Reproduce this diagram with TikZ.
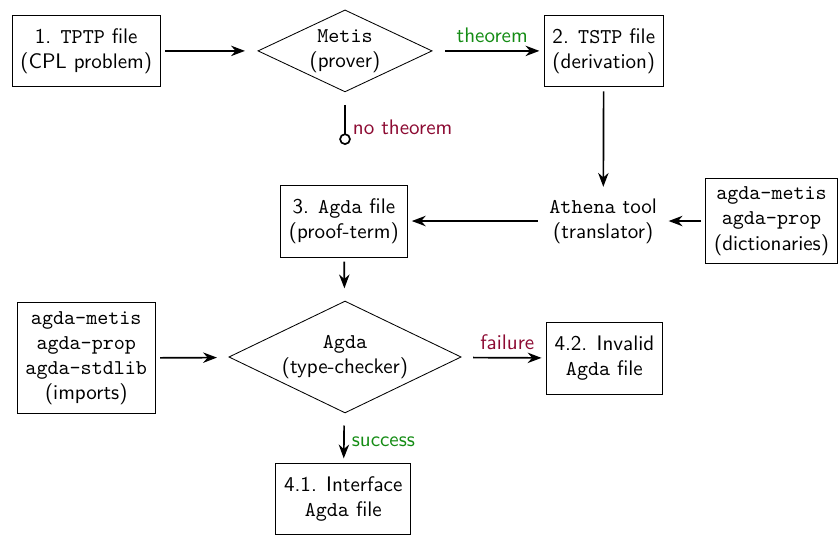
\documentclass[tikz,border=0pt]{standalone}
\usetikzlibrary{arrows.meta, shapes.geometric}

\definecolor{okgreen}{RGB}{20,140,20}
\definecolor{badred}{RGB}{140,10,50}

\tikzset{
    filebox/.style={draw, thin, align=center, font=\sffamily,
                    inner sep=4pt, minimum height=1.2cm},
    tool/.style={diamond, aspect=2, draw, thin, align=center, font=\sffamily,
                 inner sep=0pt, outer sep=3pt},
    plain/.style={align=center, font=\sffamily}
}

\begin{document}
\begin{tikzpicture}
\useasboundingbox (0, 0) rectangle (13.99, 8.95);

\node[filebox] (tptp) at (1.44, 8.10) {1. \texttt{TPTP} file\\(CPL problem)};
\node[tool, minimum width=2.99cm, minimum height=1.45cm] (metis) at (5.76, 8.10) {\texttt{Metis}\\(prover)};
\node[filebox] (tstp) at (10.08, 8.10) {2. \texttt{TSTP} file\\(derivation)};
\coordinate (nothm) at (5.76, 6.53);

\node[plain] (athena) at (10.07, 5.26) {\texttt{Athena} tool\\(translator)};
\node[filebox] (dict) at (12.88, 5.26) {\texttt{agda-metis}\\\texttt{agda-prop}\\(dictionaries)};
\node[filebox] (agdafile) at (5.74, 5.26) {3. \texttt{Agda} file\\(proof-term)};

\node[tool, minimum width=3.96cm, minimum height=1.95cm] (agda) at (5.76, 2.99) {\texttt{Agda}\\(type-checker)};
\node[filebox] (imports) at (1.44, 2.97) {\texttt{agda-metis}\\\texttt{agda-prop}\\\texttt{agda-stdlib}\\(imports)};
\node[filebox] (invalid) at (10.09, 2.97) {4.2. Invalid\\\texttt{Agda} file};
\node[filebox] (iface) at (5.73, 0.62) {4.1. Interface\\\texttt{Agda} file};

\begin{scope}[>={Stealth[black]}, thick, shorten >=2pt, shorten <=2pt,
              every node/.style={font=\sffamily}]
    \draw[->] (tptp) -- (metis);
    \draw[->] (metis) -- node[above, okgreen] {theorem} (tstp);
    \draw[-{Circle[open, length=5.5pt]}, shorten >=0pt] (metis.south) -- node[pos=0.6, right, badred] {no theorem} (nothm);
    \draw[->] (tstp) -- (athena);
    \draw[->] (dict) -- (athena);
    \draw[->] (athena) -- (agdafile);
    \draw[->] (agdafile) -- (agda);
    \draw[->] (imports) -- (agda);
    \draw[->] (agda) -- node[above, badred] {failure} (invalid);
    \draw[->] (agda) -- node[right, okgreen] {success} (iface);
\end{scope}
\end{tikzpicture}
\end{document}
